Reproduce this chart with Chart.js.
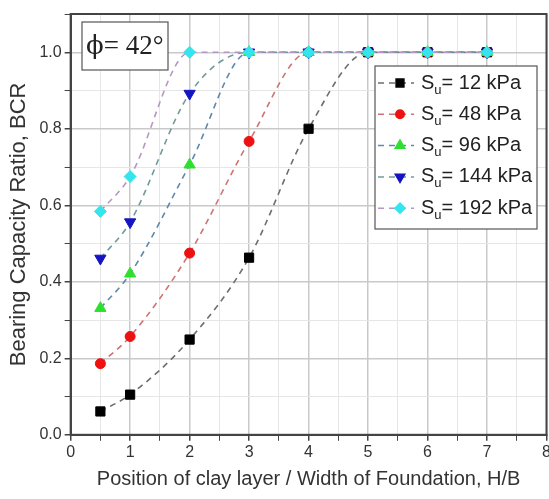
<!DOCTYPE html>
<html>
<head>
<meta charset="utf-8">
<script src="https://cdn.jsdelivr.net/npm/chart.js@4"></script>
<style>
  html,body{margin:0;padding:0;background:#fff;overflow:hidden;}
  #wrap{position:relative;width:554px;height:499px;}
</style>
</head>
<body>
<div id="wrap"><canvas id="c" width="554" height="499"></canvas></div>
<script>
// H/B positions
const positions = [0.5, 1, 2, 3, 4, 5, 6, 7];

// BCR per undrained shear strength
const bcr12  = [0.061, 0.105, 0.249, 0.463, 0.800, 1.0, 1.0, 1.0];
const bcr48  = [0.186, 0.257, 0.475, 0.767, 1.0, 1.0, 1.0, 1.0];
const bcr96  = [0.331, 0.421, 0.706, 1.0, 1.0, 1.0, 1.0, 1.0];
const bcr144 = [0.461, 0.556, 0.892, 1.0, 1.0, 1.0, 1.0, 1.0];
const bcr192 = [0.584, 0.675, 1.0, 1.0, 1.0, 1.0, 1.0, 1.0];

const legendLabels = ['12 kPa', '48 kPa', '96 kPa', '144 kPa', '192 kPa'];
const xTicks = [0, 1, 2, 3, 4, 5, 6, 7, 8];
const yTicks = [0.0, 0.2, 0.4, 0.6, 0.8, 1.0];

const series = [
  { data: bcr12,  line: '#6e6e6e', fill: '#000000', style: 'rect',     rot: 0,   r: 6.5 },
  { data: bcr48,  line: '#cf7272', fill: '#ee1111', style: 'circle',   rot: 0,   r: 5 },
  { data: bcr96,  line: '#5f88aa', fill: '#2ee02e', style: 'triangle', rot: 0,   r: 6.5 },
  { data: bcr144, line: '#6f9c9a', fill: '#1414c0', style: 'triangle', rot: 180, r: 6.5 },
  { data: bcr192, line: '#b596c4', fill: '#33e6ee', style: 'rectRot',  rot: 0,   r: 6 }
];

const FONT = 'Liberation Sans, Arial, sans-serif';
const isMajorX = v => Math.abs(v - Math.round(v)) < 1e-6;
const isMajorY = v => Math.round(v * 10) % 2 === 0;

// frame, phi box and legend
const extras = {
  id: 'extras',
  afterDatasetsDraw(chart){
    const {ctx, chartArea: a} = chart;
    ctx.save();
    ctx.strokeStyle = '#444';
    ctx.lineWidth = 2;
    ctx.strokeRect(a.left, a.top, a.right - a.left, a.bottom - a.top);

    // phi box
    ctx.fillStyle = '#fff';
    ctx.fillRect(82, 22, 86, 48);
    ctx.lineWidth = 1.2;
    ctx.strokeStyle = '#555';
    ctx.strokeRect(82, 22, 86, 48);
    ctx.fillStyle = '#222';
    ctx.textBaseline = 'middle';
    ctx.textAlign = 'left';
    ctx.font = '26px "DejaVu Serif", serif';
    ctx.fillText('\u03D5', 86, 47);
    const pw = ctx.measureText('\u03D5').width;
    ctx.font = '27px "Liberation Serif", "Times New Roman", serif';
    ctx.fillText('= 42\u00B0', 86 + pw, 47);

    // legend
    const lx = 375, ly = 66, lw = 162, lh = 163;
    ctx.fillStyle = '#fff';
    ctx.fillRect(lx, ly, lw, lh);
    ctx.strokeStyle = '#555';
    ctx.lineWidth = 1.2;
    ctx.strokeRect(lx, ly, lw, lh);
    series.forEach((s, i) => {
      const y = 83 + i * 31.3;
      ctx.strokeStyle = s.line;
      ctx.lineWidth = 1.5;
      ctx.setLineDash([6, 5]);
      ctx.beginPath();
      ctx.moveTo(378, y); ctx.lineTo(414, y);
      ctx.stroke();
      ctx.setLineDash([]);
      ctx.fillStyle = s.fill;
      ctx.strokeStyle = s.fill;
      Chart.helpers.drawPoint(ctx, {pointStyle: s.style, rotation: s.rot, radius: s.r * 0.85, borderWidth: 1}, 400, y);
      ctx.fillStyle = '#222';
      ctx.font = '20px ' + FONT;
      ctx.textBaseline = 'middle';
      ctx.fillText('S', 421, y);
      const sw = ctx.measureText('S').width;
      ctx.font = '13px ' + FONT;
      ctx.fillText('u', 421 + sw, y + 7);
      const uw = ctx.measureText('u').width;
      ctx.font = '20px ' + FONT;
      ctx.fillText('= ' + legendLabels[i], 421 + sw + uw, y);
    });
    ctx.restore();
  }
};

new Chart(document.getElementById('c'), {
  type: 'line',
  data: {
    labels: positions,
    datasets: series.map((s, i) => ({
      label: 'Su= ' + legendLabels[i],
      data: positions.map((x, j) => ({x, y: s.data[j]})),
      order: series.length - i,   // later series drawn on top
      borderColor: s.line,
      borderWidth: 1.6,
      borderDash: [6, 5],
      cubicInterpolationMode: 'monotone',
      pointStyle: s.style,
      pointRotation: s.rot,
      pointRadius: s.r,
      pointBackgroundColor: s.fill,
      pointBorderColor: s.fill,
      pointBorderWidth: 1,
      fill: false
    }))
  },
  options: {
    responsive: false,
    animation: false,
    layout: { padding: { left: 6, right: 0, top: 14, bottom: 8 } },
    plugins: { legend: { display: false }, tooltip: { enabled: false } },
    scales: {
      x: {
        type: 'linear',
        min: 0, max: 8,
        ticks: {
          stepSize: 0.5,
          color: '#333',
          font: { family: FONT, size: 16 },
          padding: 2,
          callback: v => xTicks.includes(v) ? String(v) : ''
        },
        grid: {
          color: c => isMajorX(c.tick.value) ? '#c9c9c9' : '#e6e6e6',
          lineWidth: c => isMajorX(c.tick.value) ? 1.5 : 1,
          tickColor: '#444',
          tickLength: 6
        },
        border: { color: '#444', width: 2 },
        title: {
          display: true,
          text: 'Position of clay layer / Width of Foundation, H/B',
          color: '#333',
          font: { family: FONT, size: 20 },
          padding: { top: 3, bottom: 0 }
        }
      },
      y: {
        min: 0, max: 1.1,
        ticks: {
          stepSize: 0.1,
          color: '#333',
          font: { family: FONT, size: 16 },
          padding: 3,
          callback: v => {
            const r = Math.round(v * 10) / 10;
            return yTicks.some(t => Math.abs(t - r) < 1e-6) ? r.toFixed(1) : '';
          }
        },
        grid: {
          color: c => isMajorY(c.tick.value) ? '#c9c9c9' : '#e6e6e6',
          lineWidth: c => isMajorY(c.tick.value) ? 1.5 : 1,
          tickColor: '#444',
          tickLength: 6
        },
        border: { color: '#444', width: 2 },
        title: {
          display: true,
          text: 'Bearing Capacity Ratio, BCR',
          color: '#333',
          font: { family: FONT, size: 22 },
          padding: { top: 0, bottom: 4 }
        }
      }
    }
  },
  plugins: [extras]
});
</script>
</body>
</html>
